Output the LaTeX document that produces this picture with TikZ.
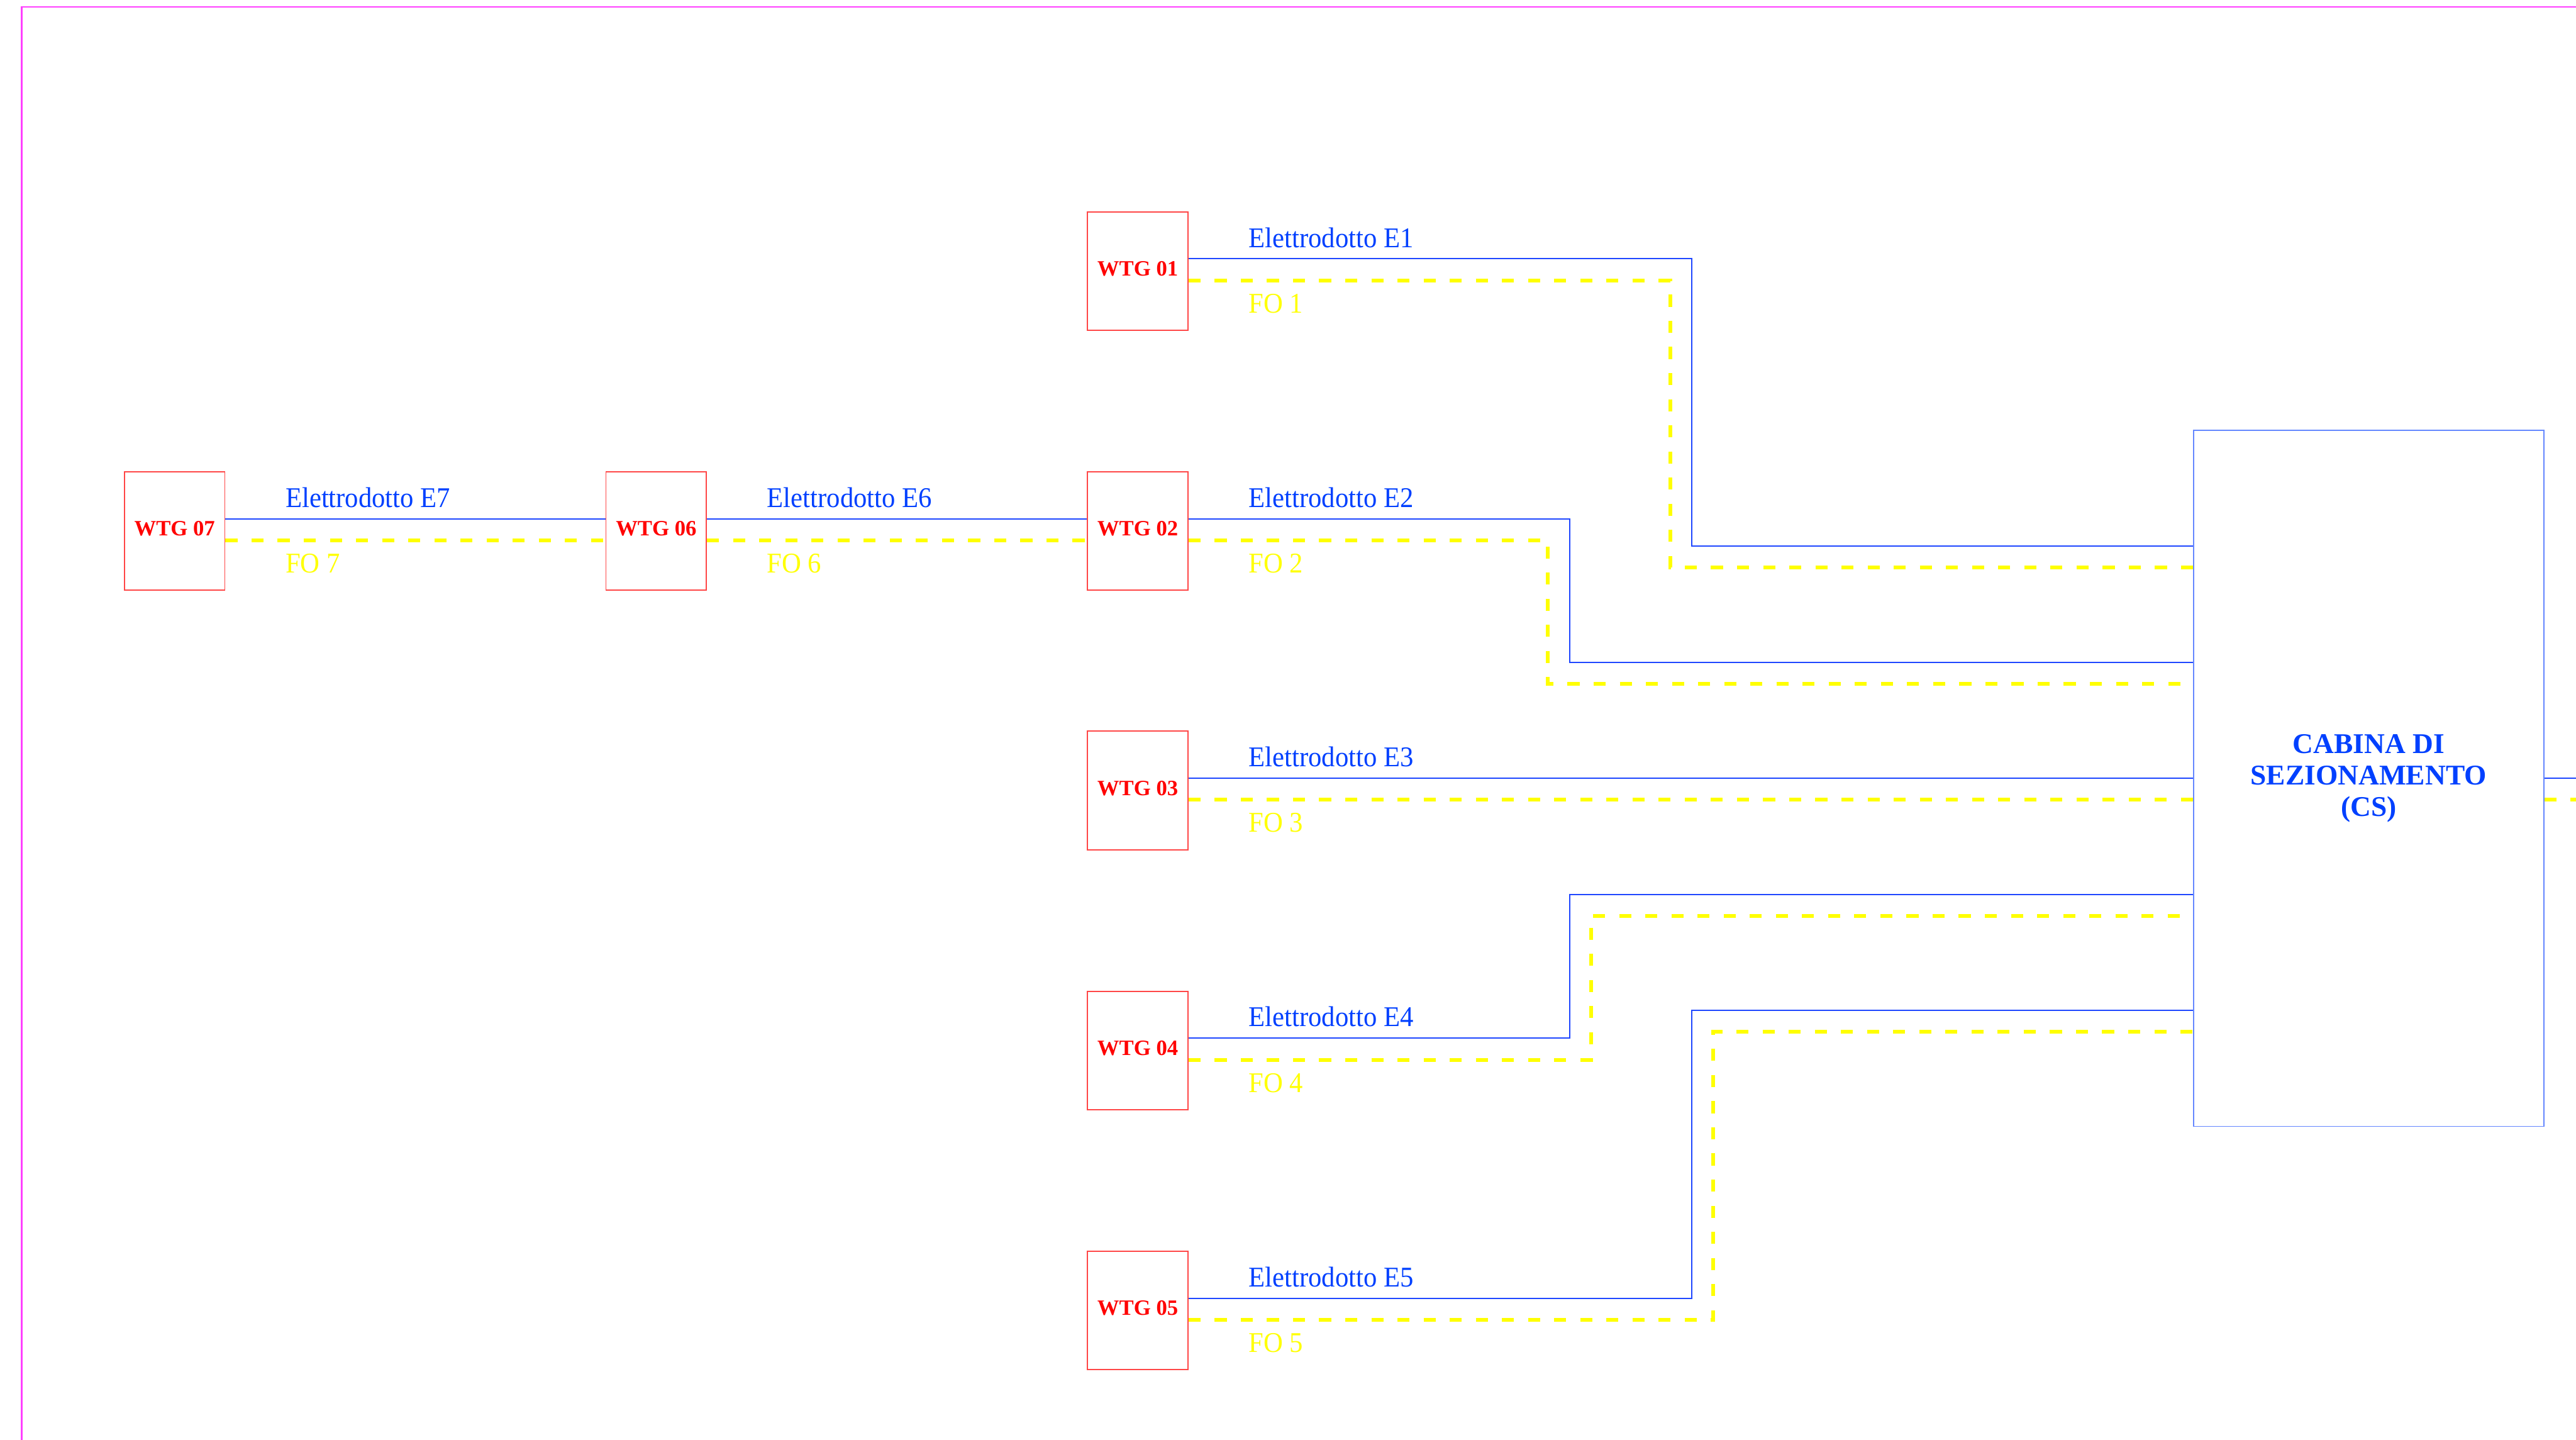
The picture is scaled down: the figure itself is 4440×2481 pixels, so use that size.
\documentclass[tikz,border=0pt]{standalone}
\usepackage{fontspec}
\setmainfont{Liberation Serif}
\newfontfamily\condserif[FakeStretch=0.94]{Liberation Serif}
\usetikzlibrary{calc}
\definecolor{lineblue}{RGB}{30,70,255}
\definecolor{csblue}{RGB}{100,135,255}
\definecolor{textblue}{RGB}{0,64,255}
\definecolor{boxred}{RGB}{255,70,70}
\definecolor{textred}{RGB}{255,0,0}
\definecolor{foyellow}{RGB}{255,255,0}
\definecolor{framemag}{RGB}{255,64,255}
\tikzset{
  wtg/.style={draw=boxred, line width=0.55pt, minimum width=17.3mm, minimum height=20.4mm,
    inner sep=0pt, text depth=0.8mm, text=textred, font=\bfseries\fontsize{10.7}{12}\selectfont},
  csbox/.style={draw=csblue, line width=0.6pt, minimum width=60.3mm, minimum height=119.9mm,
    inner sep=0pt, align=center, text=textblue, font=\bfseries\fontsize{14}{15.4}\selectfont},
  eline/.style={draw=lineblue, line width=0.6pt},
  foline/.style={draw=foyellow, line width=1.85pt, dash pattern=on 5.9pt off 6.9pt},
  elab/.style={anchor=base west, inner sep=0pt, text=textblue, font=\condserif\fontsize{14}{16}\selectfont},
  folab/.style={anchor=base west, inner sep=0pt, text=foyellow, font=\condserif\fontsize{14}{16}\selectfont},
  frameline/.style={draw=framemag, line width=0.85pt}
}
\begin{document}
\begin{tikzpicture}[x=0.01cm, y=-0.01cm]
\useasboundingbox (0,0) rectangle (4440,2481);
\fill[white] (0,0) rectangle (4440,2481);
% frame
\coordinate (fbl) at (37,2481);
\coordinate (ftl) at (37,12);
\coordinate (ftr) at (4440,12);
\draw[frameline] (fbl) -- (ftl) -- (ftr);
% turbines
\node[wtg] (w1) at (1961,467) {WTG 01};
\node[wtg] (w2) at (1961,915) {WTG 02};
\node[wtg] (w3) at (1961,1362) {WTG 03};
\node[wtg] (w4) at (1961,1810) {WTG 04};
\node[wtg] (w5) at (1961,2258) {WTG 05};
\node[wtg] (w6) at (1131,915) {WTG 06};
\node[wtg] (w7) at (301,915) {WTG 07};
% cabina
\node[csbox] (cs) at (4082.5,1341) {CABINA DI\\SEZIONAMENTO\\(CS)};
\coordinate (rb) at (4440,1341);
\coordinate (ry) at (4440,1378);
% chain E7, E6
\draw[eline] ($(w7.east)+(0,-21)$) -- ($(w6.west)+(0,-21)$);
\draw[foline] ($(w7.east)+(0,16)$) -- ($(w6.west)+(0,16)$);
\draw[eline] ($(w6.east)+(0,-21)$) -- ($(w2.west)+(0,-21)$);
\draw[foline] ($(w6.east)+(0,16)$) -- ($(w2.west)+(0,16)$);
% E1
\draw[eline] ($(w1.east)+(0,-21)$) -| (2916,941) -- ($(cs.west)+(0,-400)$);
\draw[foline] ($(w1.east)+(0,16)$) -| (2879,978) -- ($(cs.west)+(0,-363)$);
% E2
\draw[eline] ($(w2.east)+(0,-21)$) -| (2706,1141) -- ($(cs.west)+(0,-200)$);
\draw[foline] ($(w2.east)+(0,16)$) -| (2668,1178) -- ($(cs.west)+(0,-163)$);
% E3
\draw[eline] ($(w3.east)+(0,-21)$) -- (cs.west);
\draw[foline] ($(w3.east)+(0,16)$) -- ($(cs.west)+(0,37)$);
% E4
\draw[eline] ($(w4.east)+(0,-21)$) -| (2706,1541) -- ($(cs.west)+(0,200)$);
\draw[foline] ($(w4.east)+(0,16)$) -| (2742,1578) -- ($(cs.west)+(0,237)$);
% E5
\draw[eline] ($(w5.east)+(0,-21)$) -| (2916,1741) -- ($(cs.west)+(0,400)$);
\draw[foline] ($(w5.east)+(0,16)$) -| (2953,1778) -- ($(cs.west)+(0,437)$);
% outgoing
\draw[eline] (cs.east) -- (rb);
\draw[foline] ($(cs.east)+(0,37)$) -- (ry);
% labels
\node[elab] (le1) at ($(w1.east)+(103,-41)$) {Elettrodotto E1};
\node[folab] (lf1) at ($(w1.east)+(103,72)$) {FO 1};
\node[elab] (le2) at ($(w2.east)+(103,-41)$) {Elettrodotto E2};
\node[folab] (lf2) at ($(w2.east)+(103,72)$) {FO 2};
\node[elab] (le3) at ($(w3.east)+(103,-41)$) {Elettrodotto E3};
\node[folab] (lf3) at ($(w3.east)+(103,72)$) {FO 3};
\node[elab] (le4) at ($(w4.east)+(103,-41)$) {Elettrodotto E4};
\node[folab] (lf4) at ($(w4.east)+(103,72)$) {FO 4};
\node[elab] (le5) at ($(w5.east)+(103,-41)$) {Elettrodotto E5};
\node[folab] (lf5) at ($(w5.east)+(103,72)$) {FO 5};
\node[elab] (le6) at ($(w6.east)+(103,-41)$) {Elettrodotto E6};
\node[folab] (lf6) at ($(w6.east)+(103,72)$) {FO 6};
\node[elab] (le7) at ($(w7.east)+(103,-41)$) {Elettrodotto E7};
\node[folab] (lf7) at ($(w7.east)+(103,72)$) {FO 7};
\end{tikzpicture}
\end{document}
